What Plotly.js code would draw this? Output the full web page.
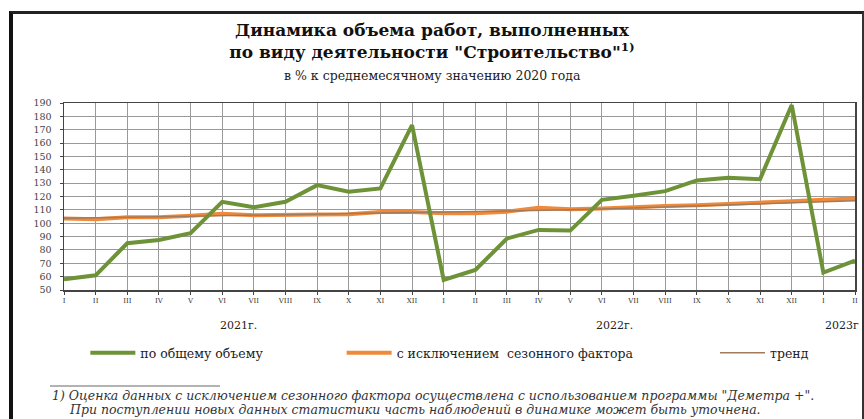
<!DOCTYPE html>
<html>
<head>
<meta charset="utf-8">
<script src="https://cdn.plot.ly/plotly-3.0.1.min.js"></script>
<style>
html,body{margin:0;padding:0;background:#fff;}
#wrap{position:relative;width:864px;height:419px;overflow:hidden;}
#chart{position:absolute;left:0;top:0;width:864px;height:419px;}
#frame{position:absolute;left:9px;top:11px;width:849px;height:440px;border-left:4px solid #111;border-top:3px solid #222;border-right:2px solid #333;pointer-events:none;}
</style>
</head>
<body>
<div id="wrap"><div id="chart"></div><div id="frame"></div></div>
<script>
// Month labels (Jan 2021 .. Feb 2023)
const months = ['I','II','III','IV','V','VI','VII','VIII','IX','X','XI','XII',
                'I','II','III','IV','V','VI','VII','VIII','IX','X','XI','XII',
                'I','II'];
const yearLabels = ['2021г.','2022г.','2023г'];
const yearPos = [5.5, 17.4, 24.6];
// по общему объему
const totalVolume = [58, 61, 85, 87.5, 92.5, 116, 112, 116, 128.5, 123.5, 126, 173.5,
                     57.5, 65, 88.5, 95, 94.5, 117.5, 120.5, 124, 132, 134, 133, 188.5,
                     63, 72];
// с исключением сезонного фактора
const seasAdj = [103.6, 103, 104.4, 104.4, 105.6, 107, 106, 106, 106.6, 106.8, 108.4, 108.4,
                 107.4, 107.4, 108.6, 111.5, 110.4, 111.1, 112.2, 112.8, 113.4, 114.2, 115.2, 116.4,
                 117.6, 118.5];
// тренд
const trend = [103.8, 104.0, 104.4, 104.8, 105.3, 105.8, 106.1, 106.4, 106.8, 107.2, 107.6, 107.9,
               108.1, 108.4, 108.8, 109.4, 110.0, 110.7, 111.4, 112.1, 112.8, 113.5, 114.3, 115.1,
               116.0, 116.8];
const yTicks = [50,60,70,80,90,100,110,120,130,140,150,160,170,180,190];

const xIdx = months.map((m, i) => i);
const serif = 'DejaVu Serif, Liberation Serif, serif';

const traces = [
  {x: xIdx, y: seasAdj, type: 'scatter', mode: 'lines', name: 'с исключением  сезонного фактора',
   line: {color: '#F08A3A', width: 4}, legend: 'legend2'},
  {x: xIdx, y: trend, type: 'scatter', mode: 'lines', name: 'тренд',
   line: {color: '#A07A5A', width: 1.5}, legend: 'legend3'},
  {x: xIdx, y: totalVolume, type: 'scatter', mode: 'lines', name: 'по общему объему',
   line: {color: '#6E9238', width: 4}, legend: 'legend'}
];

const legFont = {family: serif, size: 12.5, color: '#222'};
const legY = -0.30 - 7/187;
const legBase = {y: legY, xanchor: 'left', yanchor: 'middle', orientation: 'h', font: legFont,
                 bgcolor: 'rgba(0,0,0,0)', itemwidth: 45};
const layout = {
  width: 864, height: 419,
  margin: {l: 64, r: 9, t: 103, b: 129},
  paper_bgcolor: '#fff', plot_bgcolor: '#fff',
  font: {family: serif, color: '#333'},
  title: {
    text: '<b>Динамика объема работ, выполненных<br>по виду деятельности "Строительство"<sup>1)</sup></b>',
    font: {family: serif, size: 17, color: '#111'},
    x: 0.5, xanchor: 'center', xref: 'container',
    y: 1 - 36/419, yanchor: 'top', yref: 'container'
  },
  xaxis: {
    range: [0, 25], tickvals: xIdx, ticktext: months,
    showgrid: true, gridcolor: '#9a9a9a', gridwidth: 1,
    showline: true, linecolor: '#444', linewidth: 1.5, mirror: true,
    ticks: 'outside', ticklen: 3, tickcolor: '#444',
    tickfont: {family: serif, size: 7, color: '#333'}, zeroline: false, fixedrange: true
  },
  yaxis: {
    range: [50, 190], tickvals: yTicks,
    showgrid: true, gridcolor: '#9a9a9a', gridwidth: 1,
    showline: true, linecolor: '#444', linewidth: 1.5, mirror: true,
    ticks: 'outside', ticklen: 3, tickcolor: '#444', ticklabelstandoff: 6,
    tickfont: {family: serif, size: 9.5, color: '#444'}, zeroline: false, fixedrange: true
  },
  showlegend: true,
  legend: Object.assign({x: 0.027}, legBase),
  legend2: Object.assign({x: 0.351}, legBase),
  legend3: Object.assign({x: 0.823}, legBase),
  annotations: [
    {text: 'в % к среднемесячному значению 2020 года', xref: 'paper', yref: 'paper',
     x: 0.466, y: 1 + (103-75)/187, yanchor: 'middle', showarrow: false,
     font: {family: serif, size: 12.5, color: '#222'}},
    {text: '<i>1) Оценка данных с исключением сезонного фактора осуществлена с использованием программы "Деметра +".</i>',
     xref: 'paper', yref: 'paper', x: (50-64)/791, y: (290-395)/187, xanchor: 'left', yanchor: 'middle', showarrow: false,
     font: {family: serif, size: 12.5, color: '#333'}},
    {text: '<i>При поступлении новых данных статистики часть наблюдений в динамике может быть уточнена.</i>',
     xref: 'paper', yref: 'paper', x: (67-64)/791, y: (290-409)/187, xanchor: 'left', yanchor: 'middle', showarrow: false,
     font: {family: serif, size: 12.5, color: '#333'}}
  ].concat(yearLabels.map((t, i) => ({
     text: t, xref: 'x', yref: 'paper', x: yearPos[i], y: (290-325)/187, yanchor: 'middle', showarrow: false,
     font: {family: serif, size: 11, color: '#222'}}))),
  shapes: [
    {type: 'line', xref: 'paper', yref: 'paper', x0: (50-64)/791, x1: (220-64)/791,
     y0: (290-386)/187, y1: (290-386)/187, line: {color: '#666', width: 1}}
  ]
};

Plotly.newPlot('chart', traces, layout, {staticPlot: true, displayModeBar: false});
</script>
</body>
</html>
